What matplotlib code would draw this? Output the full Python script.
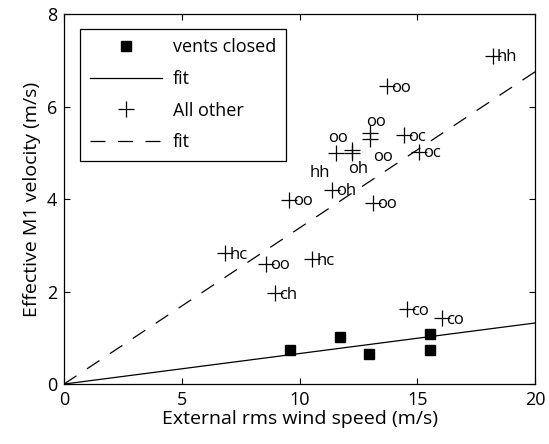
import numpy as np
import matplotlib
matplotlib.use("Agg")
import matplotlib.pyplot as plt

plt.rcParams['font.family'] = ['Open Sans', 'DejaVu Sans']

# vents closed runs
closed_wind = [9.6, 11.7, 12.95, 15.55, 15.55]
closed_vel = [0.74, 1.02, 0.65, 1.08, 0.74]
closed_slope = 0.066

# all other runs, with their configuration code
other_wind = [18.2, 13.7, 12.99, 12.99, 11.55, 12.23, 12.23, 14.44, 15.07,
              11.38, 9.55, 13.1, 6.84, 8.58, 10.53, 8.96, 14.56, 16.05]
other_vel = [7.09, 6.44, 5.43, 5.3, 4.99, 5.05, 5.0, 5.38, 5.02,
             4.2, 3.98, 3.92, 2.83, 2.6, 2.7, 1.96, 1.62, 1.42]
other_code = ['hh', 'oo', 'oo', 'oo', 'hh', 'oo', 'oh', 'oc', 'oc',
              'oh', 'oo', 'oo', 'hc', 'oo', 'hc', 'ch', 'co', 'co']
other_slope = 0.3375

# label shifts (points) where codes would sit on top of each other
label_shift = [(0, 0)] * len(other_code)
label_shift[2] = (-6, 9)
label_shift[3] = (-1, -12)
label_shift[4] = (-22, -13)
label_shift[5] = (-20, 10)
label_shift[6] = (-6, -11)

fig = plt.figure(figsize=(5.49, 4.44), dpi=100)
ax = fig.add_axes([0.1166, 0.135, 0.858, 0.8335])

xfit = np.array([0, 20])
ax.plot(closed_wind, closed_vel, 's', color='black', markersize=7, label='vents closed')
ax.plot(xfit, closed_slope * xfit, '-', color='black', lw=0.9, label='fit')
ax.plot(other_wind, other_vel, '+', color='black', markersize=12, mew=0.9, label='All other')
ax.plot(xfit, other_slope * xfit, color='black', lw=0.9, linestyle=(0, (12, 10)), label='fit')

for x, y, c, (dx, dy) in zip(other_wind, other_vel, other_code, label_shift):
    ax.annotate(c, (x, y), xytext=(3 + dx, dy - 1), textcoords='offset points',
                ha='left', va='center', fontsize=12)

ax.set_xlim(0, 20)
ax.set_ylim(0, 8)
ax.set_xticks([0, 5, 10, 15, 20])
ax.set_yticks([0, 2, 4, 6, 8])
ax.tick_params(direction='in', top=True, right=True, length=4, labelsize=13, pad=5)
for s in ax.spines.values():
    s.set_linewidth(0.9)
ax.set_xlabel('External rms wind speed (m/s)', fontsize=14, labelpad=1)
ax.set_ylabel('Effective M1 velocity (m/s)', fontsize=14, labelpad=4)

leg = ax.legend(loc='upper left', fontsize=13, handlelength=4.0, fancybox=False,
                edgecolor='black', framealpha=1, borderpad=0.55, labelspacing=0.75,
                handletextpad=0.6, bbox_to_anchor=(0.015, 0.985))
leg.get_frame().set_linewidth(0.9)

fig.savefig('out.png', dpi=100)
